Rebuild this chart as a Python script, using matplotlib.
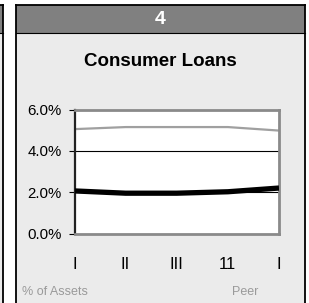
import matplotlib
matplotlib.use("Agg")
import matplotlib.pyplot as plt
from matplotlib.patches import Rectangle
from matplotlib.lines import Line2D

plt.rcParams['font.family'] = ['Liberation Sans', 'DejaVu Sans']

categories = ["I", "II", "III", "11", "I"]
peer = [5.05, 5.15, 5.15, 5.15, 4.98]
bank = [2.06, 1.95, 1.95, 2.02, 2.20]
yticks = [0, 2, 4, 6]
ytick_labels = ["0.0%", "2.0%", "4.0%", "6.0%"]
header = "4"
title = "Consumer Loans"
left_note = "% of Assets"
right_note = "Peer"

W, H = 309, 303
fig = plt.figure(figsize=(W/100, H/100), dpi=100)
fig.patch.set_facecolor("white")

def fx(x): return x / W
def fy(y): return 1 - y / H

# previous panel sliver
fig.add_artist(Rectangle((fx(-10), fy(33)), fx(13), 28/H, transform=fig.transFigure,
                         facecolor="#808080", edgecolor="none", zorder=0))
fig.add_artist(Rectangle((fx(-10), fy(320)), fx(13), (320-33)/H, transform=fig.transFigure,
                         facecolor="#ebebeb", edgecolor="none", zorder=0))
fig.add_artist(Line2D([fx(2.5), fx(2.5)], [fy(4.5), fy(310)], transform=fig.transFigure, color="black", lw=1.3, zorder=0.5))
fig.add_artist(Line2D([fx(-5), fx(2.5)], [fy(4.5), fy(4.5)], transform=fig.transFigure, color="black", lw=1.3, zorder=0.5))
fig.add_artist(Line2D([fx(-5), fx(2.5)], [fy(33), fy(33)], transform=fig.transFigure, color="black", lw=0.8, zorder=0.5))

# main panel
fig.add_artist(Rectangle((fx(15.5), fy(320)), fx(305) - fx(15.5), (320-4.5)/H, transform=fig.transFigure,
                         facecolor="#ebebeb", edgecolor="none", zorder=0))
fig.add_artist(Rectangle((fx(15.5), fy(33)), fx(305) - fx(15.5), 28.5/H, transform=fig.transFigure,
                         facecolor="#808080", edgecolor="none", zorder=0))
fig.add_artist(Line2D([fx(15.5), fx(15.5)], [fy(4.5), fy(310)], transform=fig.transFigure, color="black", lw=1.3, zorder=0.5))
fig.add_artist(Line2D([fx(305), fx(305)], [fy(4.5), fy(310)], transform=fig.transFigure, color="black", lw=1.3, zorder=0.5))
fig.add_artist(Line2D([fx(15.5), fx(305)], [fy(4.5), fy(4.5)], transform=fig.transFigure, color="black", lw=1.3, zorder=0.5))
fig.add_artist(Line2D([fx(15.5), fx(305)], [fy(33), fy(33)], transform=fig.transFigure, color="black", lw=0.8, zorder=0.5))

fig.text(fx(160), fy(19), header, color="white", fontsize=14, fontweight="bold", ha="center", va="center")
fig.text(fx(160), fy(62), title, color="black", fontsize=13.5, fontweight="bold", ha="center", va="center")
fig.text(fx(22), fy(292), left_note, color="#9a9a9a", fontsize=9, ha="left", va="center")
fig.text(fx(258), fy(292), right_note, color="#9a9a9a", fontsize=9, ha="right", va="center")

ax = fig.add_axes([fx(74.5), fy(233.5), fx(279) - fx(74.5), (233.5 - 109.5)/H])
ax.set_zorder(5)
ax.set_facecolor("white")
x = list(range(len(categories)))
for yv in [2, 4]:
    ax.axhline(yv, color="black", lw=0.8, zorder=1)
ax.plot(x, peer, color="#a0a0a0", lw=1.6, zorder=2, solid_capstyle="butt")
ax.plot(x, bank, color="black", lw=3.8, zorder=3, solid_capstyle="butt")
ax.set_xlim(0, len(categories) - 1)
ax.set_ylim(0, 6)
ax.set_yticks(yticks)
ax.set_yticklabels(ytick_labels, fontsize=10.8)
ax.set_xticks(x)
ax.set_xticklabels(categories, fontsize=12)
ax.tick_params(axis="x", length=0, pad=17)
ax.tick_params(axis="y", length=4, width=0.8, color="black", pad=5)
ax.spines["left"].set_color("#222222")
ax.spines["left"].set_linewidth(1.6)
for s in ["top", "right", "bottom"]:
    ax.spines[s].set_color("#8a8a8a")
    ax.spines[s].set_linewidth(2.0)

fig.savefig("out.png", dpi=100)
